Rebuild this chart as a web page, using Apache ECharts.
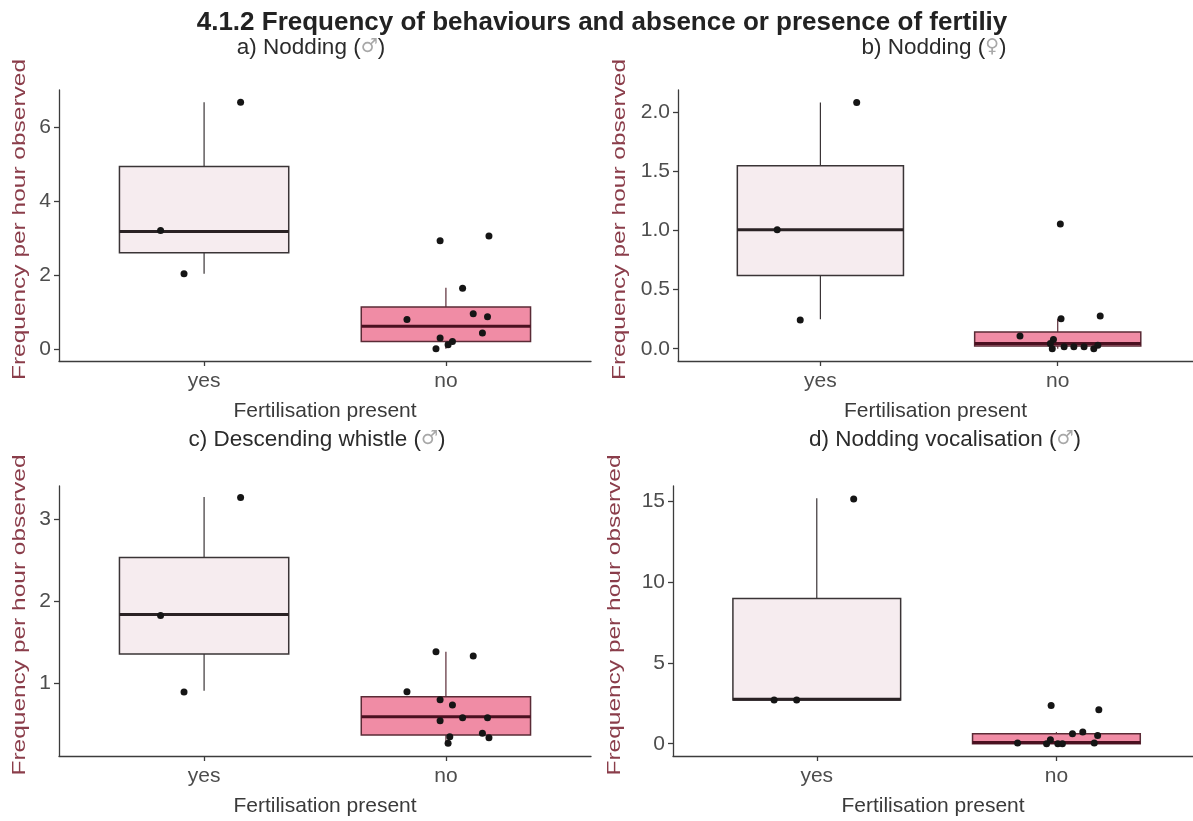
<!DOCTYPE html>
<html>
<head>
<meta charset="utf-8">
<script src="https://cdn.jsdelivr.net/npm/echarts@6/dist/echarts.min.js"></script>
<style>html,body{margin:0;padding:0;background:#fff;}#c{width:1193px;height:821px;}</style>
</head>
<body>
<div id="c"></div>
<script>
// ---------- DATA ----------
const categories = ['yes', 'no'];
const mainTitle = '4.1.2 Frequency of behaviours and absence or presence of fertiliy';
const panelTitles = [['a) Nodding (', '♂', ')'], ['b) Nodding (', '♀', ')'],
                     ['c) Descending whistle (', '♂', ')'], ['d) Nodding vocalisation (', '♂', ')']];
const xTitle = 'Fertilisation present';
const yTitle = 'Frequency per hour observed';

// box stats per category: [min, Q1, median, Q3, max]
const boxA = [[2.03, 2.6, 3.17, 4.93, 6.67], [0, 0.2, 0.61, 1.13, 1.65]];
const boxB = [[0.249, 0.619, 1.006, 1.548, 2.085], [0, 0.023, 0.045, 0.141, 0.254]];
const boxC = [[0.911, 1.356, 1.838, 2.53, 3.267], [0.27, 0.372, 0.595, 0.838, 1.385]];
const boxD = [[2.7, 2.71, 2.75, 8.99, 15.2], [0, 0, 0.08, 0.62, 0.72]];

// jittered points: x positions (1 = yes, 2 = no) and values
const ptsAX = [1.151, 0.82, 0.917, 1.976, 2.178, 2.069, 1.839, 2.113, 2.172, 2.151, 1.976, 1.959, 2.009, 2.027];
const ptsAY = [6.67, 3.2, 2.03, 2.92, 3.05, 1.64, 0.79, 0.95, 0.87, 0.43, 0.29, 0.0, 0.11, 0.2];
const ptsBX = [1.153, 0.818, 0.915, 1.841, 1.982, 1.969, 1.977, 2.011, 2.014, 2.027, 2.068, 2.111, 2.152, 2.169, 2.179];
const ptsBY = [2.085, 1.008, 0.243, 0.107, 0.079, 0.045, 0.0, 1.056, 0.254, 0.017, 0.017, 0.017, 0.0, 0.03, 0.277];
const ptsCX = [1.151, 0.82, 0.917, 1.959, 2.113, 1.839, 1.976, 2.027, 2.069, 2.172, 1.976, 2.151, 2.178, 2.016, 2.009];
const ptsCY = [3.26, 1.826, 0.895, 1.385, 1.332, 0.899, 0.802, 0.737, 0.583, 0.583, 0.547, 0.393, 0.34, 0.352, 0.271];
const ptsDX = [1.154, 0.822, 0.916, 1.838, 1.959, 1.975, 1.978, 2.006, 2.025, 2.067, 2.110, 2.158, 2.172, 2.177];
const ptsDY = [15.15, 2.71, 2.71, 0.04, 0.0, 0.25, 2.36, 0.0, 0.0, 0.62, 0.72, 0.04, 0.51, 2.11];

// y tick values and axis ranges
const ticksA = [0, 2, 4, 6];        const rangeA = [-0.33, 7.0];
const ticksB = [0, 0.5, 1, 1.5, 2]; const rangeB = [-0.104, 2.19];
const ticksC = [1, 2, 3];           const rangeC = [0.117, 3.4];
const ticksD = [0, 5, 10, 15];      const rangeD = [-0.76, 15.96];
const tickDecimals = [0, 1, 0, 0];

// ---------- STYLE / LAYOUT ----------
const FONT = "'Liberation Sans', Arial, sans-serif";
const boxFill = ['#f6ecef', '#f08ca5'];
const boxStroke = ['#3a3436', '#5a2b36'];
const medColor = ['#2a2224', '#4a1020'];
const axisColor = '#3c3c3c';

const grids = [
  {left: 59, top: 90, width: 532, height: 271},
  {left: 678, top: 90, width: 515, height: 271},
  {left: 59, top: 486, width: 532, height: 270},
  {left: 673, top: 486, width: 520, height: 270}
];
const xMax = [2.6, 2.57, 2.6, 2.57];
const boxes = [boxA, boxB, boxC, boxD];
const ptsX = [ptsAX, ptsBX, ptsCX, ptsDX];
const ptsY = [ptsAY, ptsBY, ptsCY, ptsDY];
const ticks = [ticksA, ticksB, ticksC, ticksD];
const ranges = [rangeA, rangeB, rangeC, rangeD];
const titlePos = [[306, 31], [929, 31], [312, 423], [940, 423]];
const yTitleX = [20, 620, 20, 615];

const chart = echarts.init(document.getElementById('c'));

const option = {
  backgroundColor: '#fff',
  animation: false,
  title: [{
    text: mainTitle, left: 597, top: 5, textAlign: 'center',
    textStyle: {fontFamily: FONT, fontSize: 26, fontWeight: 'bold', color: '#222'}
  }].concat(panelTitles.map((t, i) => ({
    text: t[0] + '{s|' + t[1] + '}' + t[2],
    left: titlePos[i][0], top: titlePos[i][1], textAlign: 'center',
    textStyle: {fontFamily: FONT, fontSize: 22.5, fontWeight: 'normal', color: '#2b2b2b',
      rich: {s: {fontFamily: 'DejaVu Sans', fontSize: 19, color: '#a8a8a8'}}}
  }))),
  graphic: grids.map((g, i) => ({
    type: 'text', x: yTitleX[i], y: g.top + g.height / 2 - 6, rotation: Math.PI / 2,
    scaleX: 1.36, silent: true,
    style: {text: yTitle, fontFamily: FONT, fontSize: 18, fill: '#8a3d4a',
      align: 'center', verticalAlign: 'middle'}
  })),
  grid: grids.map(g => Object.assign({containLabel: false}, g)),
  xAxis: grids.map((g, i) => ({
    type: 'value', gridIndex: i, min: 0.4, max: xMax[i],
    name: xTitle, nameLocation: 'middle', nameGap: 40,
    nameTextStyle: {fontFamily: FONT, fontSize: 21, color: '#3a3a3a'},
    splitLine: {show: false},
    axisLine: {show: true, onZero: false, lineStyle: {color: axisColor, width: 1.3}},
    axisTick: {show: true, customValues: [1, 2], length: 5, lineStyle: {color: axisColor, width: 1.3}},
    axisLabel: {customValues: [1, 2], formatter: v => categories[Math.round(v) - 1],
      fontFamily: FONT, fontSize: 21, color: '#4d4d4d', margin: 10}
  })),
  yAxis: grids.map((g, i) => ({
    type: 'value', gridIndex: i, min: ranges[i][0], max: ranges[i][1],
    splitLine: {show: false},
    axisLine: {show: true, onZero: false, lineStyle: {color: axisColor, width: 1.3}},
    axisTick: {show: true, customValues: ticks[i], length: 5, lineStyle: {color: axisColor, width: 1.3}},
    axisLabel: {customValues: ticks[i], formatter: v => v.toFixed(tickDecimals[i]),
      fontFamily: FONT, fontSize: 21, color: '#4d4d4d', margin: 8}
  })),
  series: []
};

boxes.forEach((bx, i) => {
  option.series.push({
    type: 'custom', xAxisIndex: i, yAxisIndex: i, z: 2,
    data: bx.map((s, k) => [k + 1].concat(s)),
    renderItem: function (params, api) {
      const x = api.value(0), mn = api.value(1), q1 = api.value(2), md = api.value(3), q3 = api.value(4), mx = api.value(5);
      const k = params.dataIndex;
      const hw = 0.35;
      const pTop = api.coord([x, mx]), pQ3 = api.coord([x, q3]), pQ1 = api.coord([x, q1]), pBot = api.coord([x, mn]);
      const l = api.coord([x - hw, q3]), r = api.coord([x + hw, q1]);
      const mL = api.coord([x - hw, md]), mR = api.coord([x + hw, md]);
      const ws = {stroke: boxStroke[k], lineWidth: 1.2};
      return {type: 'group', children: [
        {type: 'line', shape: {x1: pTop[0], y1: pTop[1], x2: pQ3[0], y2: pQ3[1]}, style: ws},
        {type: 'line', shape: {x1: pQ1[0], y1: pQ1[1], x2: pBot[0], y2: pBot[1]}, style: ws},
        {type: 'rect', shape: {x: l[0], y: l[1], width: r[0] - l[0], height: r[1] - l[1]},
          style: {fill: boxFill[k], stroke: boxStroke[k], lineWidth: 1.5}},
        {type: 'line', shape: {x1: mL[0], y1: mL[1], x2: mR[0], y2: mR[1]}, style: {stroke: medColor[k], lineWidth: 3}}
      ]};
    }
  });
  option.series.push({
    type: 'scatter', xAxisIndex: i, yAxisIndex: i, z: 5,
    symbolSize: 7, itemStyle: {color: '#151515', opacity: 1},
    data: ptsX[i].map((xv, j) => [xv, ptsY[i][j]])
  });
});

chart.setOption(option);
</script>
</body>
</html>
